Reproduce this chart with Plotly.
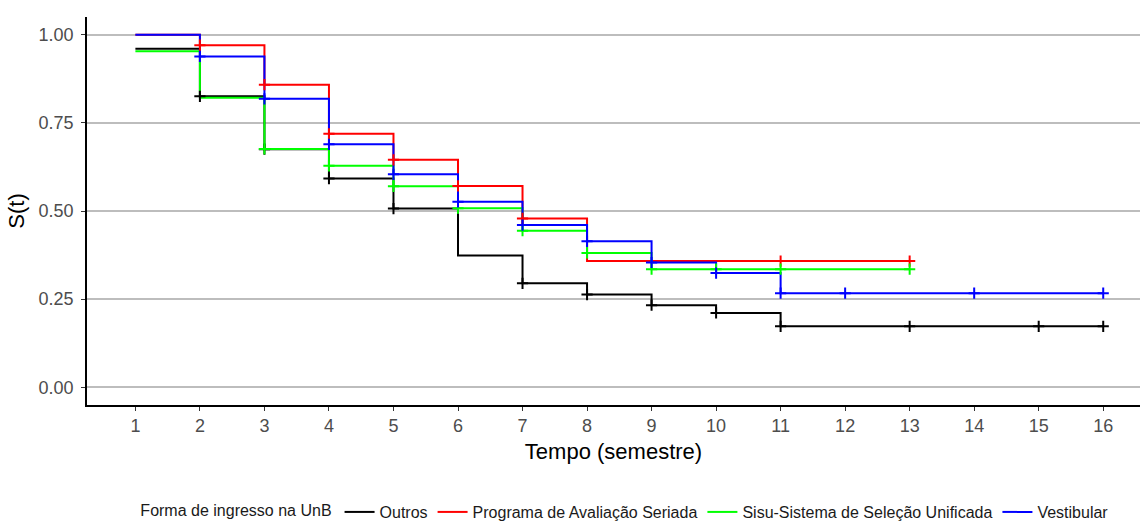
import plotly.graph_objects as go

# Kaplan-Meier estimates by admission type (time in semesters)
grupos = ["Outros", "Programa de Avaliação Seriada",
          "Sisu-Sistema de Seleção Unificada", "Vestibular"]
cores = ["#000000", "#FF0000", "#00FF00", "#0000FF"]

tempo_outros = [1, 2, 3, 4, 5, 6, 7, 8, 9, 10, 11, 13, 15, 16]
surv_outros = [0.960, 0.825, 0.675, 0.592, 0.507, 0.374, 0.295, 0.263,
               0.233, 0.211, 0.173, 0.173, 0.173, 0.173]
cens_outros = [2, 3, 4, 5, 7, 8, 9, 10, 11, 13, 15, 16]

tempo_pas = [1, 2, 3, 4, 5, 6, 7, 8, 11, 13]
surv_pas = [1.000, 0.970, 0.858, 0.719, 0.645, 0.571, 0.479, 0.358,
            0.358, 0.358]
cens_pas = [2, 3, 4, 5, 6, 7, 11, 13]

tempo_sisu = [1, 2, 3, 4, 5, 6, 7, 8, 9, 10, 11, 13]
surv_sisu = [0.953, 0.821, 0.676, 0.628, 0.570, 0.508, 0.444, 0.381,
             0.335, 0.335, 0.335, 0.335]
cens_sisu = [3, 4, 5, 6, 7, 8, 9, 10, 11, 13]

tempo_vest = [1, 2, 3, 4, 5, 6, 7, 8, 9, 10, 11, 12, 14, 16]
surv_vest = [1.000, 0.938, 0.818, 0.689, 0.604, 0.526, 0.460, 0.414,
             0.354, 0.324, 0.267, 0.267, 0.267, 0.267]
cens_vest = [2, 3, 4, 5, 6, 7, 8, 9, 10, 11, 12, 14, 16]

dados = [
    (tempo_outros, surv_outros, cens_outros),
    (tempo_pas, surv_pas, cens_pas),
    (tempo_sisu, surv_sisu, cens_sisu),
    (tempo_vest, surv_vest, cens_vest),
]

y_ticks = [0.0, 0.25, 0.5, 0.75, 1.0]
y_labels = ["0.00", "0.25", "0.50", "0.75", "1.00"]
x_ticks = list(range(1, 17))


def surv_em(tempos, surv, t):
    """Survival value of the step function at time t."""
    valor = surv[0]
    for ti, si in zip(tempos, surv):
        if ti <= t:
            valor = si
    return valor


fig = go.Figure()

# step curves
for nome, cor, (tempos, surv, _) in zip(grupos, cores, dados):
    fig.add_trace(go.Scatter(
        x=tempos, y=surv, mode="lines", name=nome,
        line=dict(color=cor, width=2, shape="hv"),
        legendgroup=nome,
    ))

# censoring marks
for nome, cor, (tempos, surv, cens) in zip(grupos, cores, dados):
    fig.add_trace(go.Scatter(
        x=cens, y=[surv_em(tempos, surv, t) for t in cens],
        mode="markers", showlegend=False, legendgroup=nome,
        marker=dict(symbol="cross-thin", size=8,
                    line=dict(color=cor, width=2)),
        hoverinfo="skip",
    ))

fig.update_layout(
    width=1140, height=523,
    margin=dict(l=87, r=0, t=17, b=118, autoexpand=False),
    paper_bgcolor="white", plot_bgcolor="white",
    font=dict(family="Liberation Sans, Arial, sans-serif", color="#000000"),
    showlegend=True,
    legend=dict(
        orientation="h", xref="container", x=0.549, xanchor="center",
        yref="container", y=0.021, yanchor="middle",
        font=dict(size=16, color="#1a1a1a"),
        title=dict(text="Forma de ingresso na UnB", side="left",
                   font=dict(size=16, color="#1a1a1a")),
        itemwidth=30, tracegroupgap=0,
    ),
)

fig.update_xaxes(
    range=[0.25, 16.57], tickvals=x_ticks, ticktext=[str(v) for v in x_ticks],
    showgrid=False, zeroline=False,
    showline=True, linecolor="#000000", linewidth=1.5,
    ticks="outside", ticklen=4, tickwidth=1.2, tickcolor="#333333",
    tickfont=dict(size=18, color="#4d4d4d"),
    title=dict(text="Tempo (semestre)", font=dict(size=22, color="#000000"),
               standoff=8),
)
fig.update_yaxes(
    range=[-0.05, 1.05], tickvals=y_ticks, ticktext=y_labels,
    showgrid=True, gridcolor="#bdbdbd", gridwidth=1.5, zeroline=False,
    showline=True, linecolor="#000000", linewidth=1.5,
    ticks="outside", ticklen=4, tickwidth=1.2, tickcolor="#333333",
    tickfont=dict(size=18, color="#4d4d4d"), ticklabelstandoff=4,
    title=dict(text="S(t)", font=dict(size=22, color="#000000"), standoff=8),
)

fig.write_html("out.html")
